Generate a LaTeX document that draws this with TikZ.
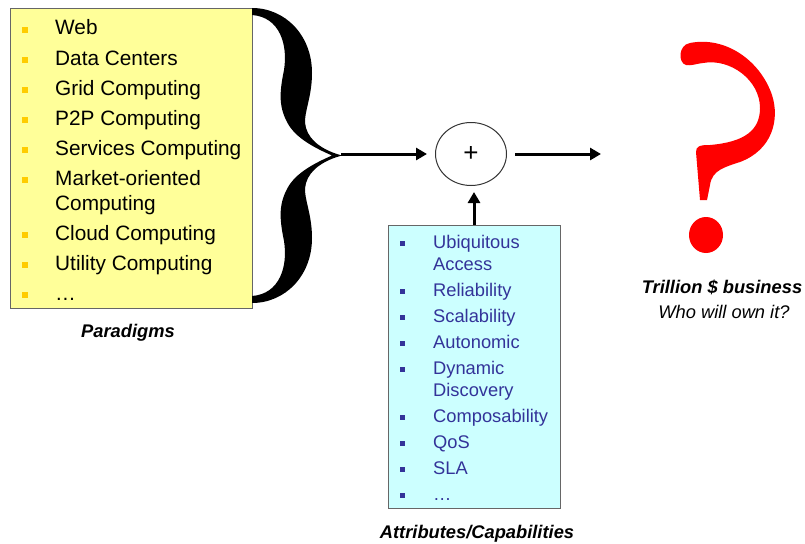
\documentclass[tikz,border=0pt]{standalone}
\usepackage{fontspec}
\setmainfont{Liberation Sans}
\usetikzlibrary{arrows.meta,shapes.geometric}
\definecolor{paraY}{HTML}{FFFF99}
\definecolor{attrC}{HTML}{CCFFFF}
\definecolor{bulY}{HTML}{FFCC00}
\definecolor{attrB}{RGB}{51,51,153}
\definecolor{qred}{HTML}{FF0000}
\begin{document}
\begin{tikzpicture}[x=1pt,y=-1pt,
 panel/.style={draw=gray!80!black, line width=1pt, inner sep=0pt},
 ptext/.style={anchor=base west, inner sep=0pt, font=\fontsize{20.8}{24}\selectfont},
 atext/.style={anchor=base west, inner sep=0pt, text=attrB, font=\fontsize{18.3}{21}\selectfont},
 ybul/.style={fill=bulY, minimum size=6pt, inner sep=0pt},
 cbul/.style={fill=attrB, minimum size=5pt, inner sep=0pt},
 flow/.style={line width=3pt, -{Triangle[length=11pt,width=12pt]}},
 caption/.style={inner sep=0pt, anchor=base, font=\fontsize{18.3}{21}\selectfont\bfseries\itshape}
]
\useasboundingbox (0,0) rectangle (805,543);

% Paradigms panel
\node[panel, fill=paraY, minimum width=242pt, minimum height=299pt] (para) at (131,158.5) {};
\foreach \t/\y [count=\i] in {Web/35, Data Centers/65, Grid Computing/95, P2P Computing/125,
  Services Computing/155, Market-oriented/185, Computing/210, Cloud Computing/240,
  Utility Computing/270, …/300}
  \node[ptext] (p\i) at (55,\y) {\t};
\foreach \y [count=\i] in {35,65,95,125,155,185,240,270,300}
  \node[ybul] (pb\i) at (25,\y-5) {};

% brace
\fill (252,8) .. controls (285,8) and (312,35) .. (312,73)
  .. controls (312,100) and (302,115) .. (306,128)
  .. controls (310,142) and (325,151) .. (342,155.5)
  .. controls (325,160) and (310,169) .. (306,183)
  .. controls (302,196) and (312,211) .. (312,238)
  .. controls (312,276) and (285,303) .. (252,303)
  -- (252,296)
  .. controls (280,294) and (288,266) .. (284,241)
  .. controls (280,221) and (278,206) .. (287,189)
  .. controls (295,173) and (315,163) .. (332,155.5)
  .. controls (315,148) and (295,138) .. (287,122)
  .. controls (278,105) and (280,90) .. (284,70)
  .. controls (288,45) and (280,17) .. (252,15) -- cycle;
\coordinate (btip) at (341,154);

% combiner
\node[draw=black!80, line width=1pt, ellipse, minimum width=71pt, minimum height=63pt,
  inner sep=0pt, font=\fontsize{26}{30}\selectfont] (op) at (471,154) {+};
\coordinate (res) at (601,154);

% Attributes panel
\node[panel, fill=attrC, minimum width=172pt, minimum height=283pt] (attr) at (474,366.5) {};
\foreach \t/\y [count=\i] in {Ubiquitous/248, Access/270, Reliability/296, Scalability/322,
  Autonomic/348, Dynamic/374, Discovery/396, Composability/422, QoS/448, SLA/474, …/500}
  \node[atext] (a\i) at (433,\y) {\t};
\foreach \y [count=\i] in {248,296,322,348,374,422,448,474,500}
  \node[cbul] (ab\i) at (402.5,\y-4.5) {};

% arrows
\draw[flow, shorten >=8pt] (btip) -- (op.west);
\draw[flow, shorten <=8pt] (op.east) -- (res);
\draw[flow, shorten >=6pt] (attr.north) -- (attr.north |- op.south);

% question mark
\fill[qred] (690,43) .. controls (725,36) and (760,60) .. (772,95)
  .. controls (780,120) and (772,150) .. (740,162)
  .. controls (725,167) and (712,170) .. (710,185)
  -- (707,200) -- (700,200) -- (696,152)
  .. controls (696,146) and (700,145) .. (710,145)
  .. controls (745,142) and (760,130) .. (760,108)
  .. controls (760,80) and (730,58) .. (703,63)
  .. controls (695,64) and (691,66) .. (686,65)
  .. controls (678,63) and (678,45) .. (690,43) -- cycle;
\fill[qred] (706,235) ellipse[x radius=17, y radius=18];

% captions
\node[caption] (lpara) at (128,337) {Paradigms};
\node[caption] (lattr) at (477,538) {Attributes/Capabilities};
\node[caption] (lbiz) at (722,293) {Trillion \$ business};
\node[inner sep=0pt, anchor=base, font=\fontsize{18.3}{21}\selectfont\itshape] (lwho) at (724,318) {Who will own it?};
\end{tikzpicture}
\end{document}
